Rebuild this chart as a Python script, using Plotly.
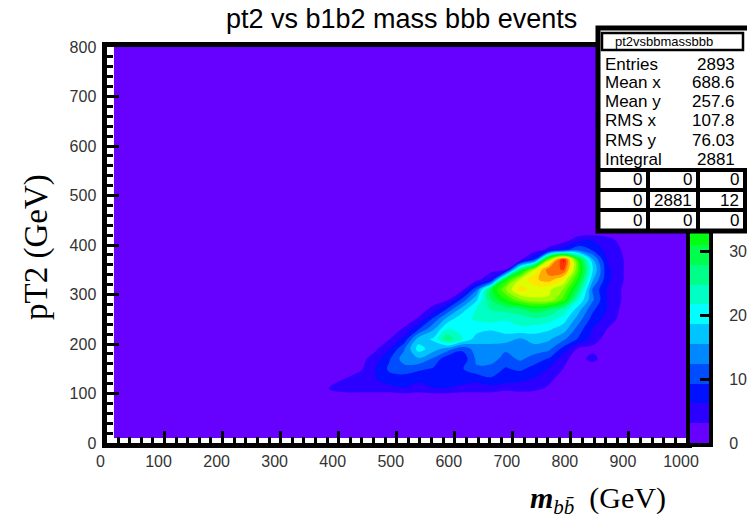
import plotly.graph_objects as go

W, H = 747, 529

# ---------------- data (bin centres of the 2D histogram, GeV) ----------------
X_CENTERS = [362.5, 387.5, 412.5, 437.5, 462.5, 487.5, 512.5, 537.5, 562.5, 587.5,
             612.5, 637.5, 662.5, 687.5, 712.5, 737.5, 762.5, 787.5, 812.5, 837.5,
             862.5, 887.5, 912.5, 937.5]
Y_CENTERS = [90, 110, 130, 150, 170, 190, 210, 230, 250, 270, 290, 310, 330, 350,
             370, 390, 410, 430]
X_FIRST, X_LAST = 12.5, 1000.0     # histogram extent (empty bins)
Y_FIRST, Y_LAST = 10.0, 800.0

Z_090 = [0] * 24
Z_110 = [0, 3.8, 5, 5, 5, 5, 6, 5, 6, 6, 5, 5, 5, 4, 4.5, 4, 2.5, 0.5, 0, 0, 0, 0, 0, 0]
Z_130 = [0, 1.5, 3.2, 5, 6, 8, 8, 7, 8, 9, 8, 7, 9, 8, 7, 6, 4, 1.5, 0, 0, 0, 0, 0, 0]
Z_150 = [0, 0.5, 2, 2.5, 6, 10, 11, 10, 9, 8, 9, 12, 11, 9, 10, 8, 6, 3, 0.5, 0, 0, 0, 0, 0]
Z_170 = [0, 0, 0.5, 2, 4.5, 9, 14, 15, 12, 7, 7, 13, 14, 11, 13, 11, 9, 4, 1.5, 4.5, 0.5, 0, 0, 0]
Z_190 = [0, 0, 0, 1, 2.5, 6, 12, 20, 17, 14, 10, 14, 15, 13, 15, 14, 13, 8, 2.5, 2, 0.5, 0, 0, 0]
Z_210 = [0, 0, 0, 0.5, 1, 3, 7, 17, 19, 27, 22, 17, 16, 17, 15, 17, 16, 13, 9, 5, 1.5, 0, 0, 0]
Z_230 = [0, 0, 0, 0, 0.5, 1.5, 3.5, 9, 15, 22, 21, 20, 19, 20, 21, 20, 19, 17, 11, 6, 3, 0.5, 0, 0]
Z_250 = [0, 0, 0, 0, 0, 0.5, 1.5, 3.5, 10, 17, 21, 22, 23, 22, 23, 24, 23, 20, 14, 8, 5, 2, 0, 0]
Z_270 = [0, 0, 0, 0, 0, 0, 0.5, 1.5, 4, 10, 17, 22, 25, 26, 27, 30, 28, 24, 17, 10, 6, 2.5, 0, 0]
Z_290 = [0, 0, 0, 0, 0, 0, 0, 0.5, 1.5, 2.5, 10, 18, 28, 34, 40, 43, 43, 36, 22, 13, 6, 3, 0, 0]
Z_310 = [0, 0, 0, 0, 0, 0, 0, 0, 0.5, 1, 2, 12, 30, 40, 48, 45, 44, 40, 28, 12, 6, 3, 0, 0]
Z_330 = [0, 0, 0, 0, 0, 0, 0, 0, 0, 0.5, 1, 2, 6, 33, 44, 49, 51, 46, 33, 16, 7, 3.5, 0.5, 0]
Z_350 = [0, 0, 0, 0, 0, 0, 0, 0, 0, 0, 0.5, 1, 2, 3, 28, 44, 55, 56, 37, 19, 7, 3.5, 0.5, 0]
Z_370 = [0, 0, 0, 0, 0, 0, 0, 0, 0, 0, 0, 0.5, 1, 1.5, 2, 10, 42, 60, 34, 16, 6, 3.5, 0.5, 0]
Z_390 = [0, 0, 0, 0, 0, 0, 0, 0, 0, 0, 0, 0, 0.5, 1, 1, 1.5, 4, 8, 12, 9, 5, 3, 0, 0]
Z_410 = [0, 0, 0, 0, 0, 0, 0, 0, 0, 0, 0, 0, 0, 0, 0.5, 0.5, 1, 1.5, 5, 6, 4.5, 2, 0, 0]
Z_430 = [0] * 24

ROWS = [Z_090, Z_110, Z_130, Z_150, Z_170, Z_190, Z_210, Z_230, Z_250, Z_270,
        Z_290, Z_310, Z_330, Z_350, Z_370, Z_390, Z_410, Z_430]

X_TICKS = [0, 100, 200, 300, 400, 500, 600, 700, 800, 900, 1000]
Y_TICKS = [0, 100, 200, 300, 400, 500, 600, 700, 800]
Z_TICKS = [0, 10, 20, 30]          # labels visible below the stats box

STAT_LABELS = ["Entries", "Mean x", "Mean y", "RMS x", "RMS y", "Integral"]
STAT_VALUES = ["2893", "688.6", "257.6", "107.8", "76.03", "2881"]
GRID_VALUES = [["0", "0", "0"], ["0", "2881", "12"], ["0", "0", "0"]]

# contour levels (ROOT default 20 contours)
LEVEL_STEP = 3.1
N_BANDS = 20
BAND_COLORS = ["#6600ff", "#2b00ff", "#0011ff", "#004dff", "#0088ff", "#00c4ff",
               "#00ffff", "#00ffc4", "#00ff88", "#00ff4d", "#00ff11", "#2bff00",
               "#66ff00", "#a2ff00", "#ddff00", "#ffe600", "#ffaa00", "#ff6e00",
               "#ff3300", "#ff0000"]

# ---------------- build grid padded with the empty bins ----------------
xs = [X_FIRST] + X_CENTERS + [X_LAST]
ys = [Y_FIRST] + Y_CENTERS + [Y_LAST]
zero_row = [0] * len(xs)
z = [zero_row] + [[0] + r + [0] for r in ROWS] + [zero_row]

cscale = [[i / (N_BANDS - 1), c] for i, c in enumerate(BAND_COLORS)]


def px(xp):
    return xp / W


def py(yp):
    return 1 - yp / H


fig = go.Figure()
fig.add_trace(go.Contour(
    x=xs, y=ys, z=z, colorscale=cscale, autocontour=False,
    contours=dict(start=LEVEL_STEP, end=LEVEL_STEP * (N_BANDS - 1), size=LEVEL_STEP,
                  coloring="fill", showlines=False),
    line=dict(width=0), showscale=False, hoverinfo="skip"))

# palette (drawn as its own small axis so the stats box can cover its top)
fig.add_trace(go.Heatmap(
    x=[0], y=[(k + 0.5) * LEVEL_STEP for k in range(N_BANDS)],
    z=[[k] for k in range(N_BANDS)], colorscale=cscale, zmin=0, zmax=N_BANDS - 1,
    showscale=False, hoverinfo="skip", xaxis="x2", yaxis="y2"))

tickfont = dict(family="Liberation Sans, Arial", size=16, color="#333333")
ydom = [py(443), py(47)]

fig.update_layout(
    width=W, height=H, margin=dict(l=0, r=0, t=0, b=0, pad=0, autoexpand=False),
    paper_bgcolor="white", plot_bgcolor="white", showlegend=False,
    xaxis=dict(domain=[px(106.5), px(687)], range=[0, 1000], tickvals=X_TICKS,
               automargin=False,
               showgrid=False, zeroline=False, showline=True, linecolor="black",
               linewidth=5, mirror=True, ticks="inside", ticklen=12, tickwidth=3,
               tickcolor="black", tickfont=tickfont, ticklabelshift=-6,
               minor=dict(ticks="inside", ticklen=6, tickwidth=3, dtick=20,
                          tickcolor="black", showgrid=False)),
    yaxis=dict(domain=ydom, range=[0, 800], tickvals=Y_TICKS, automargin=False,
               showgrid=False, zeroline=False, showline=True, linecolor="black",
               linewidth=5, mirror=True, ticks="inside", ticklen=12, tickwidth=3,
               tickcolor="black", tickfont=tickfont, ticklabelstandoff=2,
               minor=dict(ticks="inside", ticklen=6, tickwidth=3, dtick=20,
                          tickcolor="black", showgrid=False)),
    xaxis2=dict(domain=[px(690), px(709)], range=[-0.5, 0.5], anchor="y2",
                automargin=False,
                showticklabels=False, ticks="", showgrid=False, zeroline=False,
                showline=True, linecolor="black", linewidth=4, mirror=True),
    yaxis2=dict(domain=ydom, range=[0, LEVEL_STEP * N_BANDS], anchor="x2",
                automargin=False,
                side="right", tickvals=Z_TICKS, ticks="inside", ticklen=9,
                tickwidth=3, tickcolor="black", showgrid=False, zeroline=False,
                showline=True, linecolor="black", linewidth=4, mirror=True,
                tickfont=tickfont, ticklabelstandoff=13),
)

shapes = []
# stats box
shapes.append(dict(type="rect", xref="paper", yref="paper", layer="above",
                   x0=px(598), x1=px(765), y0=py(231), y1=py(28),
                   fillcolor="white", line=dict(color="black", width=5)))
shapes.append(dict(type="rect", xref="paper", yref="paper", layer="above",
                   x0=px(602), x1=px(743), y0=py(50), y1=py(33),
                   fillcolor="white", line=dict(color="black", width=2.5)))
for yy in [170, 190, 210]:
    shapes.append(dict(type="line", xref="paper", yref="paper", layer="above",
                       x0=px(598), x1=px(747), y0=py(yy), y1=py(yy),
                       line=dict(color="black", width=4)))
for xx in [648, 698, 745]:
    shapes.append(dict(type="line", xref="paper", yref="paper", layer="above",
                       x0=px(xx), x1=px(xx), y0=py(170), y1=py(231),
                       line=dict(color="black", width=4)))
fig.update_layout(shapes=shapes)


def note(text, x, y, size, xanchor="center", family="Liberation Sans, Arial", **kw):
    return dict(text=text, x=px(x), y=py(y), xref="paper", yref="paper",
                xanchor=xanchor, yanchor="middle", showarrow=False,
                font=dict(family=family, size=size, color="black"), **kw)


ann = [note("pt2vsbbmassbbb", 664, 41.5, 13)]
for lab, val, yy in zip(STAT_LABELS, STAT_VALUES, [64, 82.5, 101, 121, 140, 159]):
    ann.append(note(lab, 603, yy, 17, xanchor="left"))
    ann.append(note(val, 737, yy, 17, xanchor="right"))
for row, yy in zip(GRID_VALUES, [180, 200, 220]):
    for val, xx in zip(row, [644, 694, 741]):
        ann.append(note(val, xx, yy, 17, xanchor="right"))

ann.append(note("pt2 vs b1b2 mass bbb events", 401, 19, 27))
ann.append(note("pT2 (GeV)", 36, 247, 33, family="Liberation Serif, Times New Roman",
                textangle=-90))
ann.append(note("<b><i>m</i></b><sub><i>b</i><i>b\u0304</i></sub>  (GeV)", 528, 500, 30,
                xanchor="left", family="Liberation Serif, Times New Roman"))
fig.update_layout(annotations=ann)

fig.write_html("out.html")
